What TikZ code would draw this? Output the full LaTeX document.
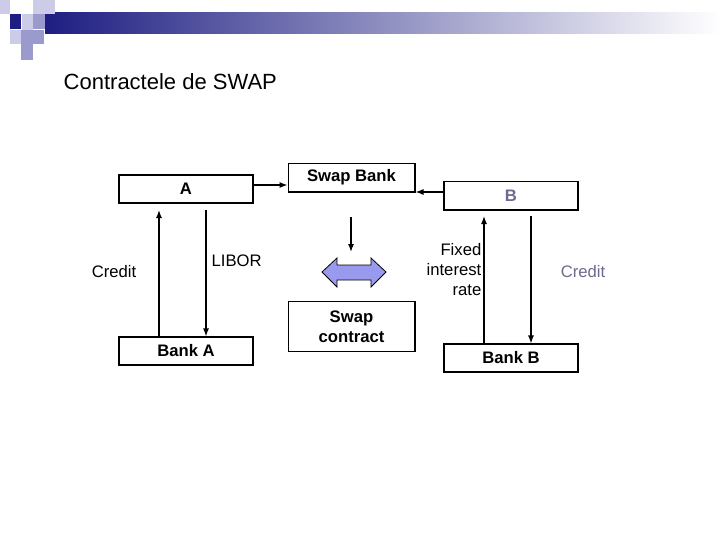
\documentclass[tikz,border=0pt]{standalone}
\usepackage{fontspec}
\setmainfont{Liberation Sans}
\usetikzlibrary{arrows.meta}
\definecolor{navy}{HTML}{1E1E82}
\definecolor{lav}{HTML}{9A9ACC}
\definecolor{lav2}{HTML}{CCCCE8}
\definecolor{grayb}{HTML}{6B6B8F}
\definecolor{arrfill}{HTML}{9999EE}
\begin{document}
\begin{tikzpicture}[x=0.75pt,y=-0.75pt,
  box/.style={draw,fill=white,line width=0.8pt,font=\bfseries\fontsize{12.5}{15}\selectfont,inner sep=0pt},
  lbl/.style={font=\fontsize{12.5}{15}\selectfont,align=right},
  arr/.style={-{Latex[length=6pt,width=4.5pt]},line width=1pt}]
\useasboundingbox (0,0) rectangle (720,540);
\fill[white] (0,0) rectangle (720,540);
% header
\shade[left color=navy,right color=white] (45,12) rectangle (720,33);
\fill[lav2] (0,0) rectangle (10,14);
\fill[lav2] (33,0) rectangle (55,14);
\fill[lav2] (22,14) rectangle (33,30);
\fill[navy] (10,14) rectangle (21,29);
\fill[lav] (21,30) rectangle (44,44);
\fill[lav] (33,14) rectangle (45,29);
\fill[lav2] (10,30) rectangle (21,44);
\fill[lav] (21,44) rectangle (33,60);
\node[anchor=west,font=\fontsize{16.5}{20}\selectfont] (title) at (59,82) {Contractele de SWAP};
% boxes
\node[box,minimum width=100.5pt,minimum height=21pt] (A) at (186,189) {A};
\node[box,minimum width=95.2pt,minimum height=21.7pt] (SB) at (351.5,177.5) {Swap Bank};
\node[box,minimum width=100.5pt,minimum height=21.7pt,text=grayb] (B) at (511,195.5) {B};
\node[box,minimum width=100.5pt,minimum height=21pt] (BA) at (186,351) {Bank A};
\node[box,minimum width=95.2pt,minimum height=38pt,align=center] (SC) at (351.5,326.5) {Swap\\contract};
\node[box,minimum width=100.5pt,minimum height=21pt] (BB) at (511,358) {Bank B};
% arrows
\draw[arr] (A.east |- 0,185) -- (SB.west |- 0,185);
\draw[arr] (B.west |- 0,192) -- (SB.east |- 0,192);
\draw[arr] (BA.north -| 159,0) -- (159,210);
\draw[arr] (206,210) -- (BA.north -| 206,0);
\draw[arr] (351,217) -- (351,252);
\draw[arr] (BB.north -| 484,0) -- (484,216);
\draw[arr] (531,216) -- (BB.north -| 531,0);
\draw[fill=arrfill,line width=0.6pt] (322,272) -- (337,258) -- (337,265) -- (371,265) -- (371,258) -- (386,272) -- (371,287) -- (371,280) -- (337,280) -- (337,287) -- cycle;
% labels
\node[lbl] (c1) at (114,272) {Credit};
\node[lbl,anchor=west] (lib) at (207,261) {LIBOR};
\node[lbl,anchor=east] (fix) at (486,270) {Fixed\\interest\\rate};
\node[lbl,text=grayb] (c2) at (583,272) {Credit};
\end{tikzpicture}
\end{document}
